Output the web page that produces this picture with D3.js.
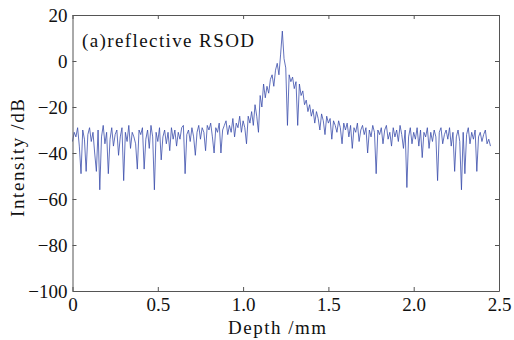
<!DOCTYPE html>
<html>
<head>
<meta charset="utf-8">
<script src="https://cdn.jsdelivr.net/npm/d3@7"></script>
<style>
  body { margin: 0; background: #fff; }
  text { font-family: "Liberation Serif", serif; fill: #111; }
</style>
</head>
<body>
<div id="chart"></div>
<script>
// depth step of the trace (mm), starts at 0
const depthStep = 0.01;
// intensity (dB), one per depth step
const intensity = [
  -35, -31, -33, -29, -37, -49, -30, -34, -48, -32,
  -29, -35, -31, -40, -48, -30, -56, -33, -28, -36,
  -31, -49, -34, -29, -37, -32, -30, -41, -33, -29,
  -52, -31, -35, -28, -38, -31, -33, -36, -47, -30,
  -32, -29, -47, -34, -30, -38, -28, -33, -56, -31,
  -35, -29, -43, -33, -30, -36, -31, -39, -29, -34,
  -30, -37, -31, -34, -29, -28, -49, -32, -30, -35,
  -29, -33, -41, -31, -28, -34, -29, -31, -39, -28,
  -30, -27, -33, -40, -29, -31, -27, -40, -30, -28,
  -26, -32, -28, -31, -25, -33, -27, -29, -24, -31,
  -26, -29, -36, -24, -27, -22, -28, -19, -24, -31,
  -15, -20, -10, -16, -11, -14, -8, -6, -11, -4,
  -1, -6, 3, 13, 1, -3, -28, -6, -9, -7,
  -12, -9, -28, -10, -15, -13, -19, -17, -22, -19,
  -24, -21, -27, -22, -25, -30, -23, -26, -32, -24,
  -27, -25, -34, -26, -28, -31, -26, -29, -36, -27,
  -30, -27, -33, -28, -38, -29, -31, -27, -35, -30,
  -28, -32, -29, -40, -30, -33, -28, -31, -49, -30,
  -32, -29, -36, -30, -28, -34, -31, -37, -29, -33,
  -30, -35, -28, -32, -38, -30, -55, -33, -29, -36,
  -31, -34, -29, -37, -30, -42, -31, -33, -29, -38,
  -31, -35, -30, -33, -52, -31, -29, -36, -32, -30,
  -34, -29, -37, -31, -48, -33, -30, -35, -56, -31,
  -49, -32, -29, -36, -31, -34, -30, -48, -33, -31,
  -35, -32, -30, -36, -34, -37
];
const xTicks = [0, 0.5, 1.0, 1.5, 2.0, 2.5];
const xTickLabels = ["0", "0.5", "1.0", "1.5", "2.0", "2.5"];
const yTicks = [20, 0, -20, -40, -60, -80, -100];

const width = 514, height = 340;
const margin = {top: 15, right: 15, bottom: 49, left: 72.5};

const svg = d3.select("#chart").append("svg")
    .attr("width", width)
    .attr("height", height);

const x = d3.scaleLinear().domain([0, 2.5]).range([margin.left, width - margin.right]);
const y = d3.scaleLinear().domain([-100, 20]).range([height - margin.bottom, margin.top]);

const data = intensity.map((v, i) => ({d: i * depthStep, v: v}));

// trace
svg.append("path")
    .datum(data)
    .attr("fill", "none")
    .attr("stroke", "#3a4cab")
    .attr("stroke-width", 0.8)
    .attr("stroke-linejoin", "round")
    .attr("d", d3.line().x(d => x(d.d)).y(d => y(d.v)));

// frame with inward ticks on all four sides
const fmt = d => xTickLabels[xTicks.indexOf(d)];
const axisStyle = g => {
    g.select(".domain").attr("stroke", "#555");
    g.selectAll(".tick line").attr("stroke", "#555");
    g.selectAll(".tick text").style("font-size", "19px").attr("fill", "#111");
};

svg.append("g")
    .attr("transform", `translate(0,${y(-100)})`)
    .call(d3.axisBottom(x).tickValues(xTicks).tickFormat(fmt).tickSizeInner(-4).tickSizeOuter(0).tickPadding(7))
    .call(axisStyle);
svg.append("g")
    .attr("transform", `translate(0,${y(20)})`)
    .call(d3.axisTop(x).tickValues(xTicks).tickFormat("").tickSizeInner(-4).tickSizeOuter(0))
    .call(axisStyle);
svg.append("g")
    .attr("transform", `translate(${x(0)},0)`)
    .call(d3.axisLeft(y).tickValues(yTicks).tickFormat(d => d < 0 ? "\u2212" + Math.abs(d) : d).tickSizeInner(-4).tickSizeOuter(0).tickPadding(5))
    .call(axisStyle);
svg.append("g")
    .attr("transform", `translate(${x(2.5)},0)`)
    .call(d3.axisRight(y).tickValues(yTicks).tickFormat("").tickSizeInner(-4).tickSizeOuter(0))
    .call(axisStyle);

svg.selectAll("text").attr("font-family", "'Liberation Serif', serif");

// labels
svg.append("text")
    .attr("x", 277)
    .attr("y", 334)
    .attr("text-anchor", "middle")
    .attr("textLength", 98)
    .attr("lengthAdjust", "spacing")
    .style("font-size", "19px")
    .text("Depth /mm");

svg.append("text")
    .attr("transform", `translate(24,158) rotate(-90)`)
    .attr("text-anchor", "middle")
    .attr("textLength", 118)
    .attr("lengthAdjust", "spacing")
    .style("font-size", "19px")
    .text("Intensity /dB");

svg.append("text")
    .attr("x", 82)
    .attr("y", 47)
    .attr("textLength", 172)
    .attr("lengthAdjust", "spacing")
    .style("font-size", "19px")
    .text("(a)reflective RSOD");
</script>
</body>
</html>
